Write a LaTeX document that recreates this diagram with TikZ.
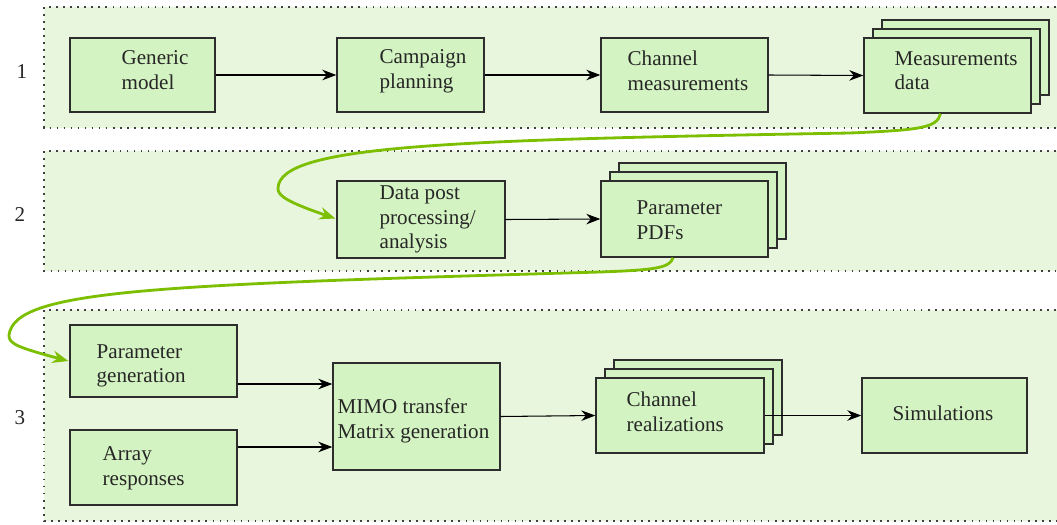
\documentclass[tikz,border=0pt]{standalone}
\usepackage{fontspec}
\setmainfont{Liberation Serif}
\usetikzlibrary{positioning, arrows.meta}
\definecolor{panelfill}{RGB}{233,246,222}
\definecolor{boxfill}{RGB}{212,243,194}
\definecolor{boxline}{RGB}{45,45,45}
\definecolor{flowgreen}{RGB}{124,190,0}

\begin{document}
\begin{tikzpicture}[x=0.02cm, y=-0.02cm,
    panel/.style={fill=panelfill},
    border/.style={draw=black!75, line width=1pt, dash pattern=on 1pt off 3pt},
    blk/.style={draw=boxline, fill=boxfill, line width=0.8pt, inner sep=0pt},
    txt/.style={font=\fontsize{12}{14}\selectfont, text=black!85, align=left, inner sep=0pt, anchor=west},
    arr/.style={-{Stealth[length=8pt,width=6pt]}, line width=0.6pt},
    flow/.style={draw=flowgreen, line width=1.6pt, -{Stealth[length=9pt,width=7pt,fill=black]}}]
    \useasboundingbox (0,0) rectangle (1057,524);

    % panels
    \fill[panel] (44,7) rectangle (1057,128);
    \fill[panel] (44,151) rectangle (1057,271);
    \fill[panel] (44,310) rectangle (1057,521);
    \draw[border] (1056,7)--(44,7)--(44,128)--(1056,128);
    \draw[border] (1056,151)--(44,151)--(44,271)--(1056,271);
    \draw[border] (1056,310)--(44,310)--(44,521)--(1056,521);
    \node[txt, anchor=center] (lab1) at (22,72) {1};
    \node[txt, anchor=center] (lab2) at (20,215) {2};
    \node[txt, anchor=center] (lab3) at (20,418) {3};

    % row 1
    \node[blk, minimum width=2.9cm, minimum height=1.48cm] (gen) at (142.5,75) {};
    \node[txt] (gen-t) at ([shift={(52,-5)}]gen.west) {Generic\\model};
    \node[blk, minimum width=2.94cm, minimum height=1.48cm] (camp) at (410.5,75) {};
    \node[txt] (camp-t) at ([shift={(43,-4)}]camp.west) {Campaign\\planning};
    \node[blk, minimum width=3.34cm, minimum height=1.48cm] (chan) at (684.5,75) {};
    \node[txt] (chan-t) at ([shift={(27,-4)}]chan.west) {Channel\\measurements};
    \foreach \k in {2,1}
      \node[blk, minimum width=3.34cm, minimum height=1.5cm] (meas-b\k) at ({947.5+9*\k},{75.5-9*\k}) {};
    \node[blk, minimum width=3.34cm, minimum height=1.5cm] (meas) at (947.5,75.5) {};
    \node[txt] (meas-t) at ([shift={(31,-5)}]meas.west) {Measurements\\data};
    \draw[arr] (gen.east) -- (camp.west);
    \draw[arr] (camp.east) -- (chan.west);
    \draw[arr] (chan.east) -- (meas.west);

    % row 2
    \node[blk, minimum width=3.36cm, minimum height=1.54cm] (post) at (421,219.5) {};
    \node[txt] (post-t) at ([shift={(43,0)}]post.west) {Data post\\processing/\\analysis};
    \foreach \k in {2,1}
      \node[blk, minimum width=3.34cm, minimum height=1.52cm] (pdfs-b\k) at ({684.5+9*\k},{219-9*\k}) {};
    \node[blk, minimum width=3.34cm, minimum height=1.52cm] (pdfs) at (684.5,219) {};
    \node[txt] (pdfs-t) at ([shift={(36,1)}]pdfs.west) {Parameter\\PDFs};
    \draw[arr] (post.east) -- (pdfs.west);

    % row 3
    \node[blk, minimum width=3.34cm, minimum height=1.44cm] (pgen) at (153.5,361) {};
    \node[txt] (pgen-t) at ([shift={(27,5)}]pgen.west) {Parameter\\generation};
    \node[blk, minimum width=3.34cm, minimum height=1.5cm] (arrresp) at (153.5,467.5) {};
    \node[txt] (arrresp-t) at ([shift={(33,0.5)}]arrresp.west) {Array\\responses};
    \node[blk, minimum width=3.34cm, minimum height=2.14cm] (mimo) at (416.5,416.5) {};
    \node[txt] (mimo-t) at ([shift={(5,4.5)}]mimo.west) {MIMO transfer\\Matrix generation};
    \foreach \k in {2,1}
      \node[blk, minimum width=3.36cm, minimum height=1.5cm] (real-b\k) at ({680+9*\k},{415.5-9*\k}) {};
    \node[blk, minimum width=3.36cm, minimum height=1.5cm] (real) at (680,415.5) {};
    \node[txt] (real-t) at ([shift={(31,-3.5)}]real.west) {Channel\\realizations};
    \node[blk, minimum width=3.3cm, minimum height=1.5cm] (sim) at (944.5,415.5) {};
    \node[txt] (sim-t) at ([shift={(31,-2)}]sim.west) {Simulations};
    \draw[arr] ([shift={(0,23)}]pgen.east) -- ([shift={(0,23)}]pgen.east -| mimo.west);
    \draw[arr] ([shift={(0,-20.5)}]arrresp.east) -- ([shift={(0,-20.5)}]arrresp.east -| mimo.west);
    \draw[arr] (mimo.east) -- (real.west);
    \draw[arr] (real.east) -- (sim.west);

    % green links between stages
    \coordinate (bend1) at (850,133);
    \coordinate (turn1) at (278,188);
    \coordinate (bend2) at (600,272);
    \coordinate (turn2) at (9,335);
    \draw[flow] ([xshift=-0.14cm]meas.south) .. controls (937,128) and (920,130) .. (bend1)
      .. controls (450,140) and (280,145) .. (turn1)
      .. controls (277,196) and (290,203) .. ([shift={(-1,-1)}]post.west);
    \draw[flow] ([xshift=-0.23cm]pdfs.south) .. controls (670,268) and (655,270) .. (bend2)
      .. controls (150,285) and (15,290) .. (turn2)
      .. controls (8,344) and (20,348) .. ([xshift=-0.02cm]pgen.west);
\end{tikzpicture}
\end{document}
